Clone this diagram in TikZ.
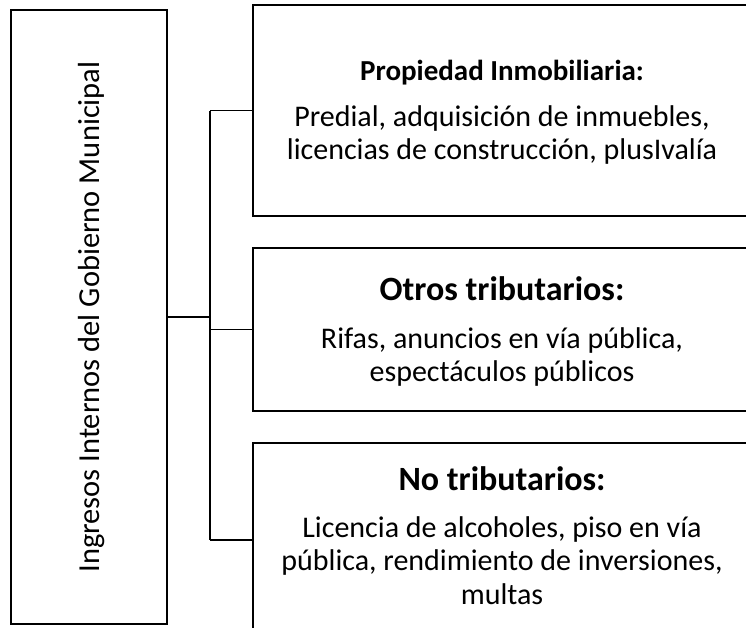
\documentclass[tikz,border=0pt]{standalone}
\usepackage{fontspec}
\setmainfont{Carlito}
\tikzset{
  caja/.style={draw, line width=1.6pt, rectangle, inner sep=0pt, minimum width=498pt},
  linea/.style={line width=1.6pt},
  titulo/.style={anchor=base, font=\fontsize{29}{34}\selectfont\bfseries},
  titulog/.style={anchor=base, font=\fontsize{34}{40}\selectfont\bfseries},
  texto/.style={anchor=base, align=center, font=\fontsize{30}{33.5}\selectfont},
}
\begin{document}
\begin{tikzpicture}[x=1pt, y=-1pt]
    \useasboundingbox (0,0) rectangle (746,627);
    \clip (0,0) rectangle (746,627);
    % cajas
    \node[caja, minimum width=156pt, minimum height=614pt] (raiz) at (89,317) {};
    \node[caja, minimum height=211pt] (caja1) at (502,110.5) {};
    \node[caja, minimum height=163pt] (caja2) at (502,329.5) {};
    \node[caja, minimum height=194pt] (caja3) at (502,540) {};
    % textos (base = ultima linea)
    \node[rotate=90, anchor=base, font=\fontsize{30.5}{36}\selectfont] (nombre) at (99,317)
        {Ingresos Internos del Gobierno Municipal};
    \node[titulo] (tit1) at (502,80) {Propiedad Inmobiliaria:};
    \node[texto] (txt1) at (502,159.5)
        {Predial, adquisición de inmuebles,\\licencias de construcción, plusIvalía};
    \node[titulog] (tit2) at (502,300) {Otros tributarios:};
    \node[texto] (txt2) at (502,381.5)
        {Rifas, anuncios en vía pública,\\espectáculos públicos};
    \node[titulog] (tit3) at (502,490) {No tributarios:};
    \node[texto] (txt3) at (502,604)
        {Licencia de alcoholes, piso en vía\\pública, rendimiento de inversiones,\\multas};
    % conectores
    \coordinate (bus) at (210,317);
    \draw[linea] (raiz.east) -- (bus);
    \draw[linea] (bus |- caja1.west) -- (bus |- caja3.west);
    \draw[linea] (bus |- caja1.west) -- (caja1.west);
    \draw[linea] (bus |- caja2.west) -- (caja2.west);
    \draw[linea] (bus |- caja3.west) -- (caja3.west);
\end{tikzpicture}
\end{document}
